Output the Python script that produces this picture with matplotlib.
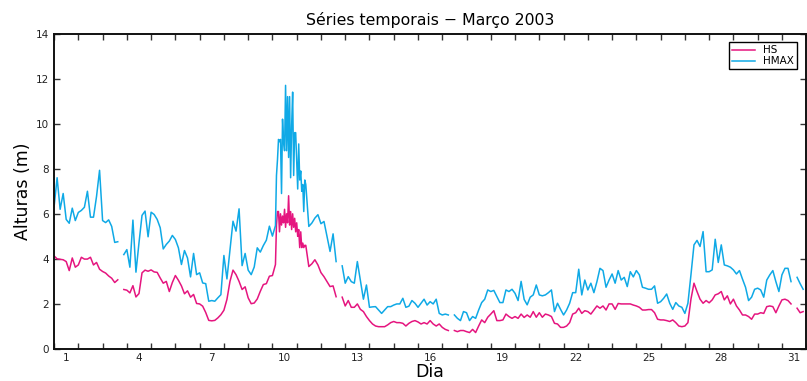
#Imports
import matplotlib
matplotlib.use('Agg')
import matplotlib.pyplot as plt
import numpy as np

# dados (dia do mes, alturas em m) - leitura aproximada do grafico
# segmento 1: 3 em 3 horas a partir do dia 1.0
t0_1 = 1.0
hs_1 = [4.13, 4.0, 3.98, 3.96, 3.88, 3.48, 4.04, 3.63, 3.73, 4.07, 3.99,
        3.99, 4.07, 3.73, 3.84, 3.54, 3.44, 3.37, 3.24, 3.14, 2.95, 3.07]
hmax_1 = [6.3, 7.6, 6.2, 6.9, 5.75, 5.58, 6.25, 5.7, 6.06, 6.15, 6.29,
          7.0, 5.85, 5.85, 6.77, 7.93, 5.70, 5.61, 5.73, 5.44, 4.73, 4.76]

# segmento 2: 3 em 3 horas a partir do dia 3.875
t0_2 = 3.875
hs_2 = [2.64, 2.61, 2.49, 2.81, 2.31, 2.46, 3.38, 3.50, 3.45, 3.51,
        3.42, 3.40, 3.15, 2.92, 3.0, 2.55, 2.95, 3.26, 3.05, 2.80,
        2.45, 2.58, 2.30, 2.42, 2.02, 2.0, 1.90, 1.62, 1.27, 1.25,
        1.27, 1.38, 1.52, 1.72, 2.20, 3.0, 3.50, 3.30, 3.0, 2.64,
        2.76, 2.27, 2.01, 2.04, 2.22, 2.56, 2.86, 2.90, 3.23, 3.26, 3.75]
hmax_2 = [4.19, 4.41, 3.63, 5.72, 3.41, 4.71, 5.93, 6.12, 4.98, 6.07,
          5.97, 5.75, 5.38, 4.44, 4.64, 4.79, 5.04, 4.86, 4.49, 3.75,
          4.37, 4.04, 3.20, 4.24, 3.30, 3.38, 2.93, 2.90, 2.12, 2.15,
          2.12, 2.27, 2.41, 4.15, 3.11, 4.41, 5.67, 5.23, 6.22, 3.70,
          4.24, 3.50, 3.30, 3.64, 4.49, 4.30, 4.59, 4.83, 5.45, 5.01, 5.48]

# temporal (dados horarios) a partir do dia 10 + 4h
t0_temp = 10.0 + 4 / 24
hs_temp = [5.5, 6.1, 6.1, 5.2, 6.0, 5.5, 5.9, 5.6, 6.2, 5.4,
           6.0, 5.6, 6.8, 5.5, 6.1, 5.3, 6.0, 5.4, 5.8, 5.2,
           5.6, 5.0, 5.3, 4.5, 5.2, 4.5, 4.7, 4.5, 4.6, 4.6]
hmax_temp = [7.7, 8.4, 9.3, 9.2, 9.3, 6.9, 10.2, 9.2, 8.8, 11.7,
             8.8, 11.2, 8.5, 11.2, 7.6, 9.9, 11.4, 7.7, 9.6, 9.6,
             8.4, 7.1, 9.1, 7.5, 7.9, 7.0, 7.3, 6.1, 7.5, 7.3]

# fim do segmento 2: 3 em 3 horas a partir do dia 11.5
t0_3 = 11.5
hs_3 = [3.66, 3.78, 3.96, 3.73, 3.39, 3.21, 2.99, 2.77, 2.80, 2.32]
hmax_3 = [5.44, 5.59, 5.81, 5.96, 5.56, 5.66, 4.99, 4.33, 5.11, 3.88]

# segmento 4: a partir do dia 12.875
t0_4 = 12.875
hs_4 = [2.30, 1.91, 2.15, 1.85, 1.85, 2.0, 1.76, 1.66, 1.44, 1.26,
        1.11, 1.02, 0.99, 0.99, 0.99, 1.07, 1.17, 1.22, 1.17, 1.17,
        1.14, 1.02, 1.14, 1.22, 1.26, 1.2, 1.11, 1.17, 1.11, 1.26,
        1.11, 1.02, 1.11, 0.96, 0.87, 0.82]
hmax_4 = [3.69, 2.92, 3.21, 2.99, 2.92, 3.88, 3.06, 2.21, 2.84, 1.85,
          1.87, 1.88, 1.73, 1.58, 1.73, 1.88, 1.88, 1.95, 2.0, 2.0,
          2.25, 1.85, 1.90, 2.15, 2.03, 1.85, 2.03, 2.21, 1.95, 2.10,
          2.0, 2.21, 1.58, 1.51, 1.55, 1.51]

# segmento 5: a partir do dia 17.5
t0_5 = 17.5
hs_5 = [0.82, 0.77, 0.82, 0.82, 0.77, 0.73, 0.87, 0.73, 1.02, 1.29,
        1.17, 1.41, 1.55, 1.70, 1.26, 1.26, 1.29, 1.55, 1.44, 1.36,
        1.44, 1.36, 1.55, 1.40, 1.51, 1.41, 1.66, 1.41, 1.61, 1.41,
        1.55, 1.51, 1.44, 1.14, 1.11, 0.96, 0.96, 1.02, 1.17, 1.55,
        1.61, 1.81, 1.58, 1.70, 1.66, 1.55, 1.73, 1.91, 1.81, 1.91,
        1.73, 2.0, 2.0, 1.76, 2.02, 2.0, 2.0, 2.0, 2.0, 1.95,
        1.91, 1.85, 1.73, 1.73, 1.75, 1.75, 1.61, 1.32, 1.29, 1.29,
        1.26, 1.22, 1.29, 1.17, 1.02, 0.99, 1.02, 1.17, 2.21, 2.92,
        2.55, 2.21, 2.03, 2.15, 2.05, 2.18, 2.40, 2.45, 2.55, 2.18,
        2.36, 2.0, 2.21, 1.91, 1.73, 1.51, 1.51, 1.44, 1.32, 1.55,
        1.55, 1.61, 1.58, 1.88, 1.91, 1.88, 1.61, 1.91, 2.18, 2.21,
        2.15, 2.0]
hmax_5 = [1.51, 1.36, 1.26, 1.66, 1.61, 1.26, 1.44, 1.36, 1.73, 2.06,
          2.21, 2.62, 2.55, 2.60, 2.33, 2.06, 2.06, 2.62, 2.55, 2.65,
          2.47, 2.15, 3.0, 2.20, 1.96, 2.30, 2.40, 2.84, 2.40, 2.36,
          2.40, 2.50, 2.62, 1.66, 2.03, 1.76, 1.51, 1.73, 2.03, 2.5,
          2.5, 3.54, 2.40, 3.06, 2.62, 2.92, 2.5, 2.99, 3.58, 3.48,
          2.74, 3.06, 3.33, 2.92, 3.48, 3.06, 3.18, 2.77, 3.43, 3.2,
          3.48, 3.29, 2.74, 2.70, 2.65, 2.65, 2.80, 2.03, 2.1, 2.25,
          2.44, 2.03, 1.76, 2.06, 1.91, 1.85, 1.58, 2.03, 3.29, 4.62,
          4.82, 4.55, 5.21, 3.43, 3.43, 3.51, 4.87, 3.84, 4.62, 3.73,
          3.69, 3.63, 3.51, 3.33, 3.48, 3.10, 2.74, 2.15, 2.30, 2.65,
          2.70, 2.62, 2.30, 3.06, 3.29, 3.48, 2.99, 2.55, 3.29, 3.58,
          3.58, 2.99]

# segmento 6: a partir do dia 31.625
t0_6 = 31.625
hs_6 = [1.81, 1.61, 1.66]
hmax_6 = [3.18, 2.9, 2.65]

segmentos = [(t0_1, 3, hs_1, hmax_1, True),
             (t0_2, 3, hs_2, hmax_2, False),
             (t0_temp, 1, hs_temp, hmax_temp, False),
             (t0_3, 3, hs_3, hmax_3, True),
             (t0_4, 3, hs_4, hmax_4, True),
             (t0_5, 3, hs_5, hmax_5, True),
             (t0_6, 3, hs_6, hmax_6, True)]

dia = []
hs = []
hmax = []
for t0, passo, a, b, quebra in segmentos:
    t = t0 + np.arange(len(a)) * passo / 24.0
    dia.extend(t)
    hs.extend(a)
    hmax.extend(b)
    if quebra:
        # falha nos dados -> linha interrompida
        dia.append(t[-1] + 0.01)
        hs.append(np.nan)
        hmax.append(np.nan)

dia = np.array(dia)
hs = np.array(hs)
hmax = np.array(hmax)

dias_label = list(range(1, 32, 3))

cor_hs = '#e5157f'
cor_hmax = '#0fa9e6'

fig = plt.figure(figsize=(8.07, 3.81), dpi=100)
ax = fig.add_axes([0.067, 0.084, 0.932, 0.828])

ax.plot(dia, hs, color=cor_hs, lw=1.1, label='HS')
ax.plot(dia, hmax, color=cor_hmax, lw=1.1, label='HMAX')

ax.set_xlim(1, 32)
ax.set_ylim(0, 14)

ax.set_xticks(np.arange(1, 33))
ax.set_xticklabels([])
ax.set_xticks([d + 0.5 for d in dias_label], minor=True)
ax.set_xticklabels([str(d) for d in dias_label], minor=True)
ax.set_yticks(np.arange(0, 15, 2))

ax.tick_params(axis='both', which='major', direction='in', top=True, right=True,
               length=4, width=1, labelsize=7.5, colors='#333333', labelcolor='#222222')
ax.tick_params(axis='x', which='minor', length=0, labelsize=7.5, labelcolor='#222222', pad=3)

for s in ax.spines.values():
    s.set_linewidth(1.4)
    s.set_color('#111111')

ax.set_title('Séries temporais − Março 2003', fontsize=11.3, pad=6)
ax.set_ylabel('Alturas (m)', fontsize=12.5, labelpad=3)
ax.set_xlabel('Dia', fontsize=12.5, labelpad=0)

leg = ax.legend(loc='upper right', fontsize=7.5, fancybox=False, framealpha=1,
                edgecolor='black', handlelength=2.2, borderpad=0.3, labelspacing=0.1,
                borderaxespad=0, bbox_to_anchor=(0.988, 0.973))
leg.get_frame().set_linewidth(1.0)

fig.savefig('out.png', dpi=100)
